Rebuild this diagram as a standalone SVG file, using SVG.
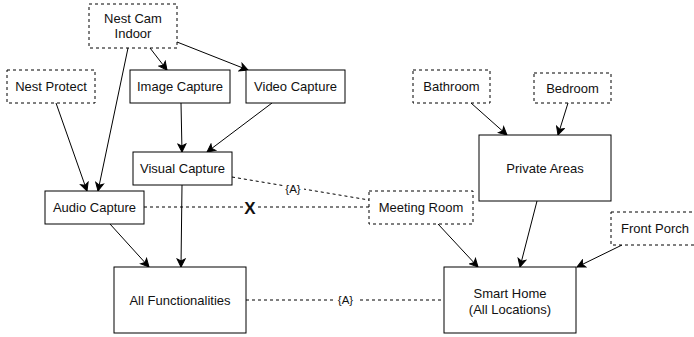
<svg xmlns="http://www.w3.org/2000/svg" width="694" height="337" viewBox="0 0 694 337">
<defs>
<style>
.n{fill:#fff;stroke:#000;stroke-width:1}
.d{fill:#fff;stroke:#000;stroke-width:1;stroke-dasharray:3 3}
text{font-family:"Liberation Sans",Arial,sans-serif;font-size:13px;fill:#111;text-anchor:middle}
.e{fill:none;stroke:#000;stroke-width:1}
.de{fill:none;stroke:#000;stroke-width:1;stroke-dasharray:3 3}
.lbl{font-size:11.5px}
</style>
<marker id="a" markerWidth="10" markerHeight="10" refX="9" refY="5" orient="auto" markerUnits="userSpaceOnUse">
<path d="M1,1 L9,5 L1,9 L3,5 Z" fill="#000" stroke="#000" stroke-width="1"/>
</marker>
</defs>
<rect width="694" height="337" fill="#fff"/>
<g id="connectors">
<line class="e" x1="150" y1="48" x2="167" y2="70" marker-end="url(#a)"/>
<line class="e" x1="177" y1="42" x2="248" y2="70" marker-end="url(#a)"/>
<line class="e" x1="128" y1="48" x2="98" y2="191" marker-end="url(#a)"/>
<line class="e" x1="56" y1="103" x2="87" y2="191" marker-end="url(#a)"/>
<line class="e" x1="181" y1="103" x2="182" y2="152" marker-end="url(#a)"/>
<line class="e" x1="272" y1="103" x2="207" y2="152" marker-end="url(#a)"/>
<line class="e" x1="182" y1="185" x2="181" y2="267" marker-end="url(#a)"/>
<line class="e" x1="110" y1="224" x2="149" y2="267" marker-end="url(#a)"/>
<line class="de" x1="232" y1="177" x2="369" y2="200"/>
<line class="de" x1="144" y1="207" x2="369" y2="207"/>
<line class="de" x1="246" y1="300" x2="444" y2="300"/>
<line class="e" x1="471" y1="103" x2="507" y2="135" marker-end="url(#a)"/>
<line class="e" x1="568" y1="103" x2="558" y2="135" marker-end="url(#a)"/>
<line class="e" x1="537" y1="201" x2="520" y2="267" marker-end="url(#a)"/>
<line class="e" x1="438" y1="224" x2="478" y2="267" marker-end="url(#a)"/>
<line class="e" x1="622" y1="245" x2="577" y2="267" marker-end="url(#a)"/>
<rect x="283" y="181" width="21" height="14" fill="#fff"/>
<text class="lbl" x="293" y="193">{A}</text>
<rect x="243" y="199" width="15" height="16" fill="#fff"/>
<text x="250" y="214" style="font-size:17px;font-weight:bold">X</text>
<rect x="335" y="293" width="22" height="14" fill="#fff"/>
<text class="lbl" x="345.5" y="304">{A}</text>
</g>
<g id="nestcam"><rect class="d" x="89" y="4" width="88" height="44"/><text x="133" y="23">Nest Cam</text><text x="133" y="38">Indoor</text></g>
<g id="nestprotect"><rect class="d" x="7" y="70" width="88" height="33"/><text x="51" y="91">Nest Protect</text></g>
<g id="imagecapture"><rect class="n" x="130" y="70" width="100" height="33"/><text x="180" y="91">Image Capture</text></g>
<g id="videocapture"><rect class="n" x="246" y="70" width="99" height="33"/><text x="295.5" y="91">Video Capture</text></g>
<g id="visualcapture"><rect class="n" x="133" y="152" width="99" height="33"/><text x="182.5" y="173">Visual Capture</text></g>
<g id="audiocapture"><rect class="n" x="45" y="191" width="99" height="33"/><text x="94.5" y="212">Audio Capture</text></g>
<g id="allfunc"><rect class="n" x="114" y="267" width="132" height="66"/><text x="180" y="305">All Functionalities</text></g>
<g id="meetingroom"><rect class="d" x="369" y="191" width="104" height="33"/><text x="421" y="212">Meeting Room</text></g>
<g id="bathroom"><rect class="d" x="413" y="70" width="77" height="33"/><text x="451.5" y="91">Bathroom</text></g>
<g id="bedroom"><rect class="d" x="534" y="73" width="77" height="30"/><text x="572.5" y="93">Bedroom</text></g>
<g id="privateareas"><rect class="n" x="479" y="135" width="132" height="66"/><text x="545" y="173">Private Areas</text></g>
<g id="frontporch"><rect class="d" x="611" y="212" width="88" height="33"/><text x="655" y="233">Front Porch</text></g>
<g id="smarthome"><rect class="n" x="444" y="267" width="132" height="66"/><text x="510" y="298">Smart Home</text><text x="510" y="314">(All Locations)</text></g>
</svg>
